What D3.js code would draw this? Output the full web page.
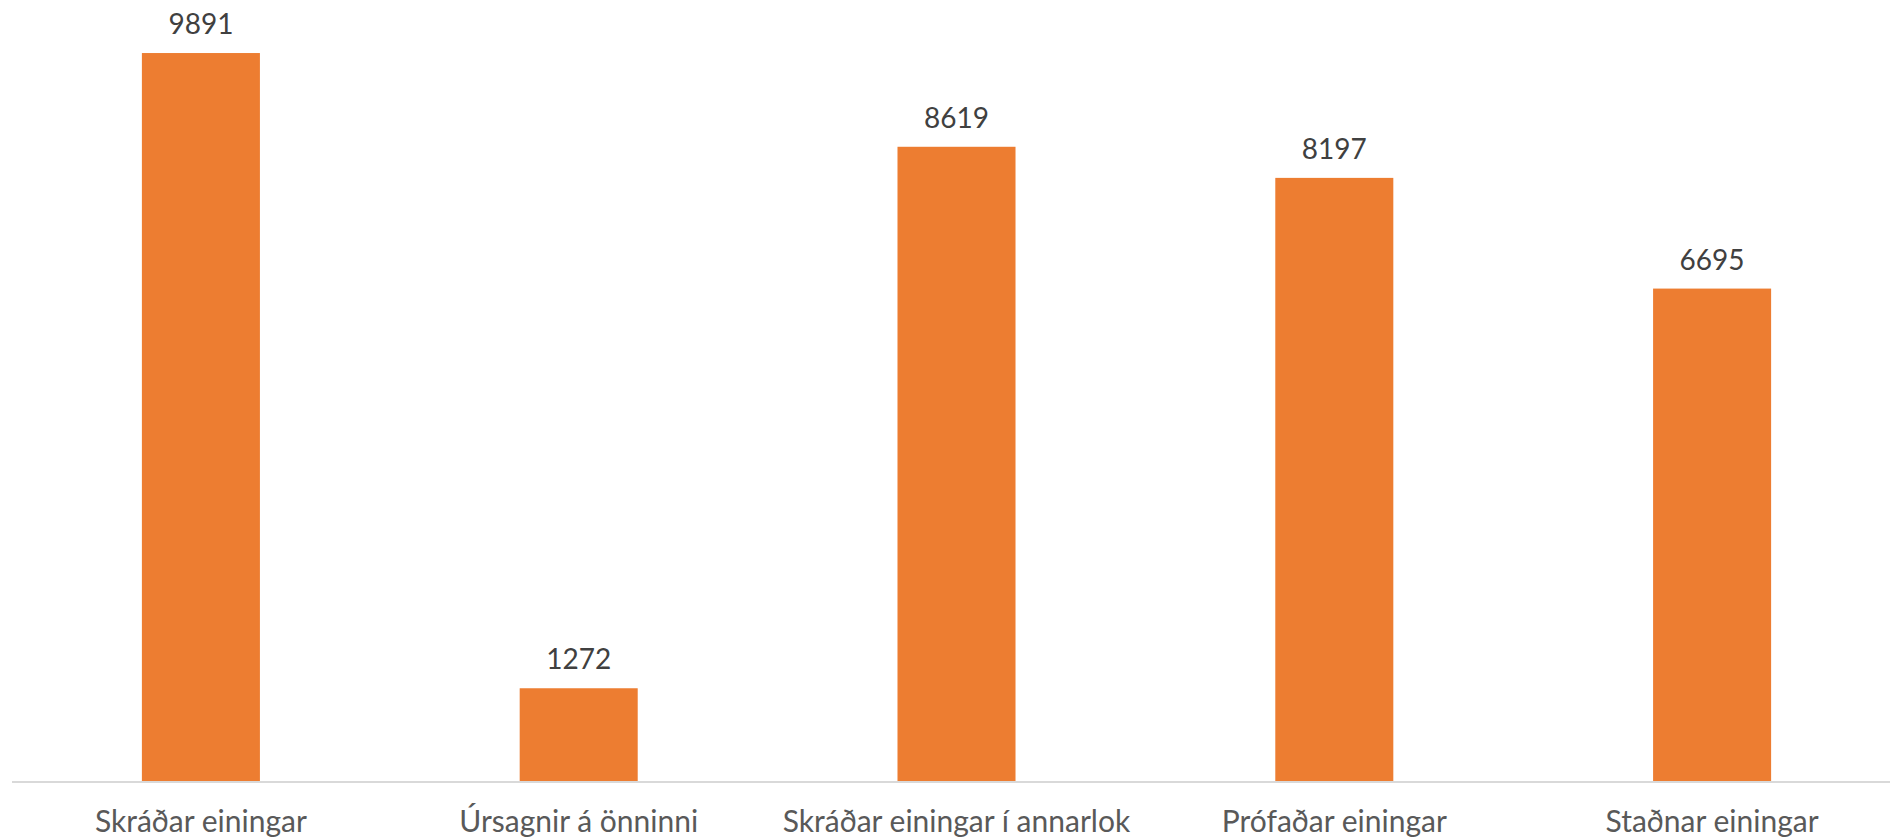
<html>
<head>
    <title>Einingar</title>
    <script src="https://d3js.org/d3.v7.min.js"></script>
    <style>
        body { margin: 0; background: #fff; }
        .value { font-size: 28px; fill: #404040; }
        .cat { font-size: 30px; fill: #595959; }
    </style>
</head>
<body>
<div id="chart"></div>

<script type="text/javascript">

    // data
    var categories = ['Skráðar einingar', 'Úrsagnir á önninni', 'Skráðar einingar í annarlok', 'Prófaðar einingar', 'Staðnar einingar'];
    var values = [9891, 1272, 8619, 8197, 6695];

    var width = 1890;
    var height = 840;

    var svg = d3.select("#chart").append("svg")
        .attr("width", width)
        .attr("height", height)
        .style("font-family", "Lato, 'Open Sans', sans-serif");

    // set the ranges
    var x = d3.scaleBand()
        .domain(categories)
        .range([12, 1901])
        .paddingInner(0.6876)
        .paddingOuter(0.3438);

    var y = d3.scaleLinear()
        .domain([0, 10000])
        .range([782, 45]);

    var rows = categories.map(function(c, i) { return {cat: c, val: values[i]}; });

    svg.selectAll(".bar")
        .data(rows)
        .enter()
        .append("rect")
        .attr("class", "bar")
        .attr("x", function(d) { return x(d.cat); })
        .attr("y", function(d) { return y(d.val); })
        .attr("width", x.bandwidth())
        .attr("height", function(d) { return y(0) - y(d.val); })
        .attr("fill", "#ED7D31");

    // baseline
    svg.append("line")
        .attr("x1", 12)
        .attr("x2", width)
        .attr("y1", y(0))
        .attr("y2", y(0))
        .attr("stroke", "#d9d9d9")
        .attr("stroke-width", 2);

    svg.selectAll(".value")
        .data(rows)
        .enter()
        .append("text")
        .attr("class", "value")
        .attr("text-anchor", "middle")
        .attr("x", function(d) { return x(d.cat) + x.bandwidth() / 2; })
        .attr("y", function(d) { return y(d.val) - 19; })
        .text(function(d) { return d.val; });

    svg.selectAll(".cat")
        .data(rows)
        .enter()
        .append("text")
        .attr("class", "cat")
        .attr("text-anchor", "middle")
        .attr("x", function(d) { return x(d.cat) + x.bandwidth() / 2; })
        .attr("y", 832)
        .text(function(d) { return d.cat; });

</script>
</body>
</html>
